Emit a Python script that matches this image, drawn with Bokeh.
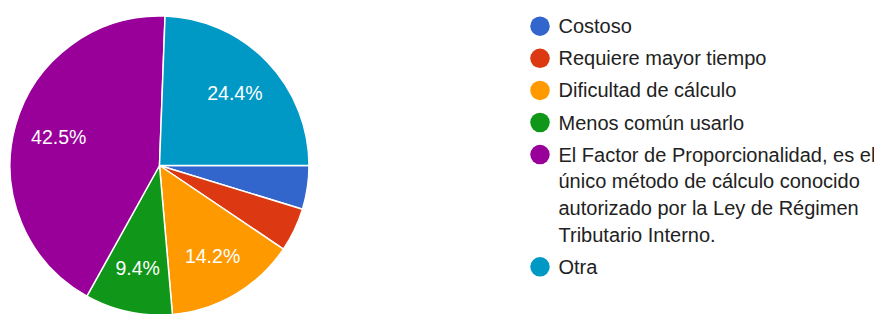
import math
from bokeh.plotting import figure
from bokeh.models import Range1d, ColumnDataSource
from bokeh.embed import file_html
from bokeh.resources import INLINE
from bokeh.core.properties import value

# ---- data ----
categories = [
    "Costoso",
    "Requiere mayor tiempo",
    "Dificultad de cálculo",
    "Menos común usarlo",
    "El Factor de Proporcionalidad, es el único método de cálculo conocido autorizado por la Ley de Régimen Tributario Interno.",
    "Otra",
]
counts = [6, 6, 18, 12, 54, 31]
colors = ["#3366cc", "#dc3912", "#ff9900", "#109618", "#990099", "#0099c6"]
legend_lines = [
    ["Costoso"],
    ["Requiere mayor tiempo"],
    ["Dificultad de cálculo"],
    ["Menos común usarlo"],
    ["El Factor de Proporcionalidad, es el",
     "único método de cálculo conocido",
     "autorizado por la Ley de Régimen",
     "Tributario Interno."],
    ["Otra"],
]

# ---- layout (pixel-like data coordinates; y measured upward from bottom) ----
W, H = 874, 314
WIN_H = 322
FONT = "Liberation Sans"

p = figure(width=W, height=H, x_range=Range1d(0, W), y_range=Range1d(WIN_H - H, WIN_H),
           output_backend="svg", toolbar_location=None, min_border=0,
           x_axis_type=None, y_axis_type=None)
p.grid.visible = False
p.outline_line_color = None

cx, cy, r = 159.0, WIN_H - 165.0, 149.5
total = float(sum(counts))

starts, ends, lx, ly, ltxt = [], [], [], [], []
cum = 0.0
for c in counts:
    a0 = cum / total * 2 * math.pi
    cum += c
    a1 = cum / total * 2 * math.pi
    # clockwise from 3 o'clock
    starts.append(-a1)
    ends.append(-a0)
    pct = c / total * 100
    if pct >= 5:
        mid = -(a0 + a1) / 2
        lx.append(cx + 0.7 * r * math.cos(mid))
        ly.append(cy + 0.7 * r * math.sin(mid))
        ltxt.append(f"{pct:.1f}%")

src = ColumnDataSource(dict(start=starts, end=ends, color=colors, cat=categories))
p.wedge(x=cx, y=cy, radius=r, start_angle="start", end_angle="end", fill_color="color",
        line_color="white", line_width=1.5, source=src)

p.text(x=lx, y=ly, text=ltxt, text_color="white", text_font=value(FONT),
       text_font_size=value("19.5px"), text_align="center", text_baseline="middle")

# legend
row_gap, line_gap = 32.1, 26.7
y = 25.7
mx, my, tx, ty, tt = [], [], [], [], []
for lines in legend_lines:
    mx.append(539.5)
    my.append(WIN_H - y)
    for i, t in enumerate(lines):
        tx.append(558.0)
        ty.append(WIN_H - (y + i * line_gap))
        tt.append(t)
    y += (len(lines) - 1) * line_gap + row_gap

p.scatter(x=mx, y=my, size=19.5, marker="circle", fill_color=colors, line_color=None)
p.text(x=tx, y=ty, text=tt, text_color="#222222", text_font=value(FONT),
       text_font_size=value("20px"), text_align="left", text_baseline="middle")

open("out.html", "w").write(file_html(p, INLINE))
